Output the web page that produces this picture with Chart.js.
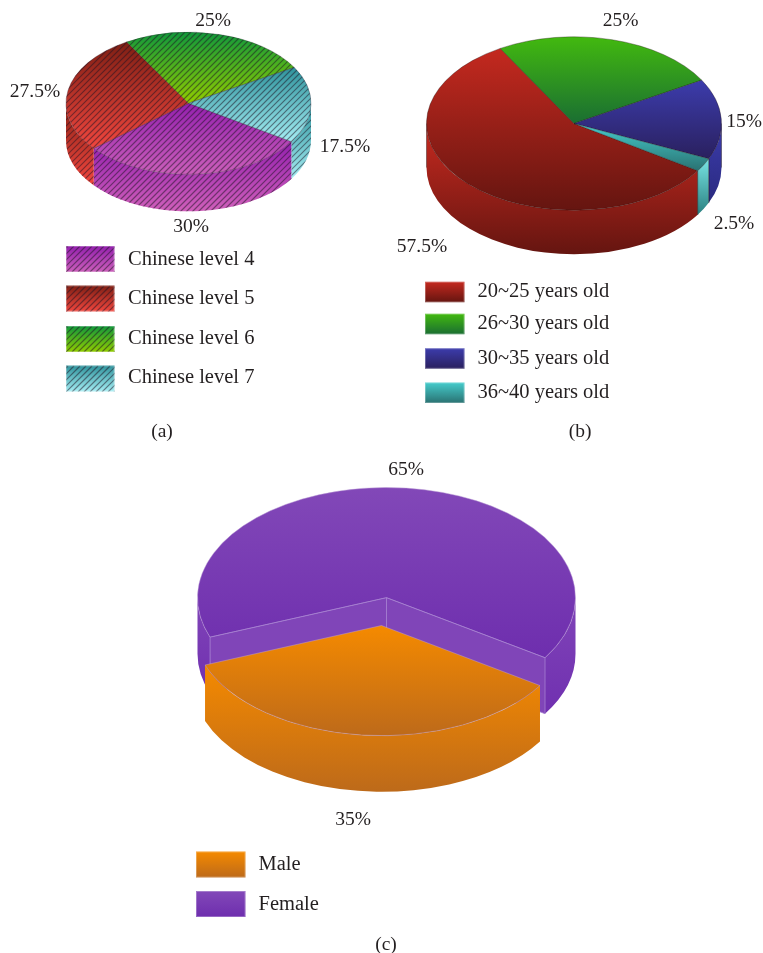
<!DOCTYPE html>
<html>
<head>
<meta charset="utf-8">
<script src="https://cdn.jsdelivr.net/npm/chart.js@4/dist/chart.umd.js"></script>
<style>
  html, body { margin: 0; padding: 0; background: #fff; }
  #page { position: relative; width: 763px; height: 953px; overflow: hidden; }
  canvas { position: absolute; }
</style>
</head>
<body>
<div id="page">
  <canvas id="chartA"></canvas>
  <canvas id="chartB"></canvas>
  <canvas id="chartC"></canvas>
</div>
<script>
const levelLabels = ['Chinese level 4', 'Chinese level 5', 'Chinese level 6', 'Chinese level 7'];
const levelValues = [30, 27.5, 25, 17.5];

const ageLabels = ['20~25 years old', '26~30 years old', '30~35 years old', '36~40 years old'];
const ageValues = [57.5, 25, 15, 2.5];

const genderLabels = ['Male', 'Female'];
const genderValues = [35, 65];

const SERIF = '"Liberation Serif", serif';
const INK = '#231f20';
const TEXT_DROP = 1.5; // middle baseline sits a bit high for this font

// each slice: [top face from, to], [side wall from, to]
const levelColors = [
  [['#9420ae', '#cb5fba'], ['#9420ae', '#cf5fba']],
  [['#7f1f14', '#f0463e'], ['#8f2418', '#f0463e']],
  [['#12983a', '#90cc00'], ['#12983a', '#90cc00']],
  [['#2f939c', '#a4ecf2'], ['#2f939c', '#a4ecf2']],
];
const ageColors = [
  [['#c4291f', '#651510'], ['#c82a20', '#651510']],
  [['#42b90f', '#1a6e32'], ['#42b90f', '#1a6e32']],
  [['#3c3cac', '#2a205e'], ['#3c3cac', '#2a2a80']],
  [['#45cccc', '#2a7272'], ['#78e4e4', '#2a8080']],
];
const genderColors = [
  [['#f58a00', '#bd6a1a'], ['#f58a00', '#bd6a1a']],
  [['#8248b8', '#6e2eae'], ['#8044b8', '#7030b0']],
];

function sideRange(a0, a1) {
  // pieces of [a0,a1] that face the viewer (lower half of the ellipse)
  const TAU = Math.PI * 2;
  const out = [];
  for (let k = -1; k <= 1; k++) {
    const s = Math.max(a0, k * TAU);
    const e = Math.min(a1, k * TAU + Math.PI);
    if (e > s) out.push([s, e]);
  }
  return out;
}

function hatch(ctx, x0, y0, x1, y1, step) {
  const h = Math.ceil(y1 - y0);
  ctx.save();
  ctx.strokeStyle = 'rgba(30,20,35,0.5)';
  ctx.lineWidth = 1.2;
  ctx.beginPath();
  for (let x = Math.floor((x0 - h) / step) * step; x < x1 + h; x += step) {
    ctx.moveTo(x, Math.round(y0) + h);
    ctx.lineTo(x + h, Math.round(y0));
  }
  ctx.stroke();
  ctx.restore();
}

const pie3d = {
  id: 'pie3d',
  beforeDatasetsDraw(chart, args, o) {
    const ctx = chart.ctx;
    const arcs = chart.getDatasetMeta(0).data;
    const order = o.drawOrder || arcs.map((_, i) => i);

    const whole = order.filter(i => !o.explode[i]);
    const loose = order.filter(i => o.explode[i]);

    const drawSlice = (i) => {
      const arc = arcs[i];
      const { x, y, startAngle, endAngle, outerRadius: r } = arc.getProps(['x', 'y', 'startAngle', 'endAngle', 'outerRadius']);
      const ry = r * o.squash;
      const mid = (startAngle + endAngle) / 2;
      const cx = x + Math.cos(mid) * o.explode[i];
      const cy = y + Math.sin(mid) * o.explode[i] * o.squash;
      const [topCols, sideCols] = o.colors[i];

      // outer wall
      sideRange(startAngle, endAngle).forEach(([s, e]) => {
        const yTop = cy + ry * Math.min(Math.sin(s), Math.sin(e));
        const yBot = cy + ry * (s < Math.PI / 2 && e > Math.PI / 2 ? 1 : Math.max(Math.sin(s), Math.sin(e))) + o.depth;
        const g = ctx.createLinearGradient(0, yTop, 0, yBot);
        g.addColorStop(0, sideCols[0]);
        g.addColorStop(1, sideCols[1]);
        ctx.save();
        ctx.beginPath();
        ctx.ellipse(cx, cy, r, ry, 0, s, e);
        ctx.ellipse(cx, cy + o.depth, r, ry, 0, e, s, true);
        ctx.closePath();
        ctx.fillStyle = g;
        ctx.fill();
        if (o.hatch) {
          ctx.clip();
          hatch(ctx, cx - r, yTop, cx + r, yBot, o.hatch);
        }
        ctx.restore();
        if (o.wallLine) {
          ctx.save();
          ctx.strokeStyle = o.wallLine;
          ctx.lineWidth = 0.8;
          ctx.beginPath();
          ctx.moveTo(cx + r * Math.cos(s), cy + ry * Math.sin(s));
          ctx.lineTo(cx + r * Math.cos(s), cy + ry * Math.sin(s) + o.depth);
          ctx.moveTo(cx + r * Math.cos(e), cy + ry * Math.sin(e));
          ctx.lineTo(cx + r * Math.cos(e), cy + ry * Math.sin(e) + o.depth);
          ctx.stroke();
          ctx.restore();
        }
      });

      // top face, drawn by the arc element inside a squashed space
      const sins = [Math.sin(startAngle), Math.sin(endAngle), 0];
      for (let k = -2; k <= 2; k++) {
        const a = Math.PI / 2 + k * Math.PI;
        if (a > startAngle && a < endAngle) sins.push(Math.sin(a));
      }
      const g = ctx.createLinearGradient(0, y + r * Math.min(...sins), 0, y + r * Math.max(...sins));
      g.addColorStop(0, topCols[0]);
      g.addColorStop(1, topCols[1]);
      const keep = arc.options;
      arc.options = Object.assign({}, keep, { backgroundColor: g });
      ctx.save();
      ctx.translate(cx, cy);
      ctx.scale(1, o.squash);
      ctx.translate(-x, -y);
      arc.draw(ctx);
      ctx.restore();
      arc.options = keep;

      if (o.hatch) {
        ctx.save();
        ctx.beginPath();
        ctx.moveTo(cx, cy);
        ctx.ellipse(cx, cy, r, ry, 0, startAngle, endAngle);
        ctx.closePath();
        ctx.clip();
        hatch(ctx, cx - r, cy - ry, cx + r, cy + ry, o.hatch);
        ctx.restore();
      }
    };

    // the notch a pulled-out slice leaves behind
    const drawNotch = (i) => {
      const { x, y, startAngle, endAngle, outerRadius: r } = arcs[i].getProps(['x', 'y', 'startAngle', 'endAngle', 'outerRadius']);
      const ry = r * o.squash;
      [startAngle, endAngle].forEach((a) => {
        const ex = x + r * Math.cos(a);
        const ey = y + ry * Math.sin(a);
        ctx.beginPath();
        ctx.moveTo(x, y);
        ctx.lineTo(ex, ey);
        ctx.lineTo(ex, ey + o.depth);
        ctx.lineTo(x, y + o.depth);
        ctx.closePath();
        ctx.fillStyle = o.notchColor;
        ctx.fill();
        ctx.strokeStyle = o.notchLine;
        ctx.lineWidth = 0.8;
        ctx.stroke();
      });
    };

    whole.forEach(drawSlice);
    loose.forEach(drawNotch);
    loose.forEach(drawSlice);
    return false;
  },
  afterDraw(chart, args, o) {
    const ctx = chart.ctx;
    const ds = chart.data.datasets[0].data;
    ctx.save();
    ctx.translate(-o.panel.left, -o.panel.top);
    ctx.fillStyle = INK;
    ctx.font = '19.5px ' + SERIF;
    ctx.textAlign = 'center';
    ctx.textBaseline = 'middle';
    ds.forEach((v, i) => {
      ctx.fillText(v + '%', o.valueSpots[i][0], o.valueSpots[i][1] + TEXT_DROP);
    });
    ctx.fillText(o.caption[0], o.caption[1], o.caption[2] + TEXT_DROP);

    // legend
    ctx.font = '20.5px ' + SERIF;
    ctx.textAlign = 'left';
    chart.data.labels.forEach((label, i) => {
      const { x, w, h, text } = o.legend;
      const y = o.legend.rows[i];
      const cols = o.colors[i][0];
      const g = ctx.createLinearGradient(0, y - h / 2, 0, y + h / 2);
      g.addColorStop(0, cols[0]);
      g.addColorStop(1, cols[1]);
      ctx.save();
      ctx.beginPath();
      ctx.rect(x, y - h / 2, w, h);
      ctx.fillStyle = g;
      ctx.fill();
      ctx.save();
      ctx.clip();
      if (o.hatch) hatch(ctx, x, y - h / 2, x + w, y + h / 2, o.hatch);
      ctx.restore();
      ctx.strokeStyle = 'rgba(255,255,255,0.28)';
      ctx.lineWidth = 1;
      ctx.strokeRect(x + 0.5, y - h / 2 + 0.5, w - 1, h - 1);
      ctx.restore();
      ctx.fillStyle = INK;
      ctx.fillText(label, text, o.legend.textRows[i] + TEXT_DROP);
    });
    ctx.restore();
  },
};

function pieChart(id, panel, center, labels, values, extra) {
  const el = document.getElementById(id);
  el.width = panel.width;
  el.height = panel.height;
  el.style.left = panel.left + 'px';
  el.style.top = panel.top + 'px';
  const cx = center.x - panel.left;
  const cy = center.y - panel.top;
  return new Chart(el, {
    type: 'pie',
    data: {
      labels: labels,
      datasets: [{
        data: values,
        backgroundColor: extra.colors.map(c => c[0][0]),
        borderColor: extra.edge,
        borderWidth: extra.edgeWidth,
        hoverOffset: 0,
      }],
    },
    plugins: [pie3d],
    options: {
      responsive: false,
      animation: false,
      events: [],
      radius: center.r,
      rotation: extra.rotation,
      layout: {
        padding: {
          left: Math.max(0, 2 * cx - panel.width),
          right: Math.max(0, panel.width - 2 * cx),
          top: Math.max(0, 2 * cy - panel.height),
          bottom: Math.max(0, panel.height - 2 * cy),
        },
      },
      plugins: {
        legend: { display: false },
        tooltip: { enabled: false },
        pie3d: Object.assign({ panel: panel, explode: values.map(() => 0) }, extra),
      },
    },
  });
}

pieChart('chartA',
  { left: 0, top: 0, width: 385, height: 445 },
  { x: 188.5, y: 103.3, r: 122.5 },
  levelLabels, levelValues,
  {
    rotation: 122.7, squash: 0.58, depth: 37, hatch: 6,
    colors: levelColors, edge: 'rgba(40,20,40,0.55)', edgeWidth: 0.7,
    valueSpots: [[191, 225], [35, 90], [213, 19], [345, 145]],
    caption: ['(a)', 162, 430],
    legend: { x: 66, w: 48.5, h: 26, text: 128, rows: [259, 298.5, 339, 378.5], textRows: [258, 297, 337, 376] },
  });

pieChart('chartB',
  { left: 385, top: 0, width: 378, height: 445 },
  { x: 574, y: 123.5, r: 147.5 },
  ageLabels, ageValues,
  {
    rotation: 123, squash: 0.588, depth: 44, hatch: 0,
    colors: ageColors, edge: 'rgba(30,15,15,0.6)', edgeWidth: 0.7, wallLine: 'rgba(30,15,15,0.5)',
    valueSpots: [[422, 245], [620.7, 19], [744, 120.7], [734, 222]],
    caption: ['(b)', 580, 430],
    legend: { x: 425, w: 39.5, h: 20.5, text: 477.5, rows: [292, 324, 358.5, 392.7], textRows: [290, 322, 357, 391] },
  });

pieChart('chartC',
  { left: 0, top: 445, width: 763, height: 508 },
  { x: 386.5, y: 597.7, r: 189 },
  genderLabels, genderValues,
  {
    rotation: 123, squash: 0.583, depth: 56, hatch: 0,
    explode: [48, 0], drawOrder: [1, 0],
    colors: genderColors, edge: 'rgba(190,160,215,0.75)', edgeWidth: 0.8,
    notchColor: '#8045b8', notchLine: '#a57fd0',
    valueSpots: [[353, 818], [406, 468]],
    caption: ['(c)', 386, 943],
    legend: { x: 196, w: 49.5, h: 26, text: 258.5, rows: [864.5, 904], textRows: [863, 903] },
  });
</script>
</body>
</html>
